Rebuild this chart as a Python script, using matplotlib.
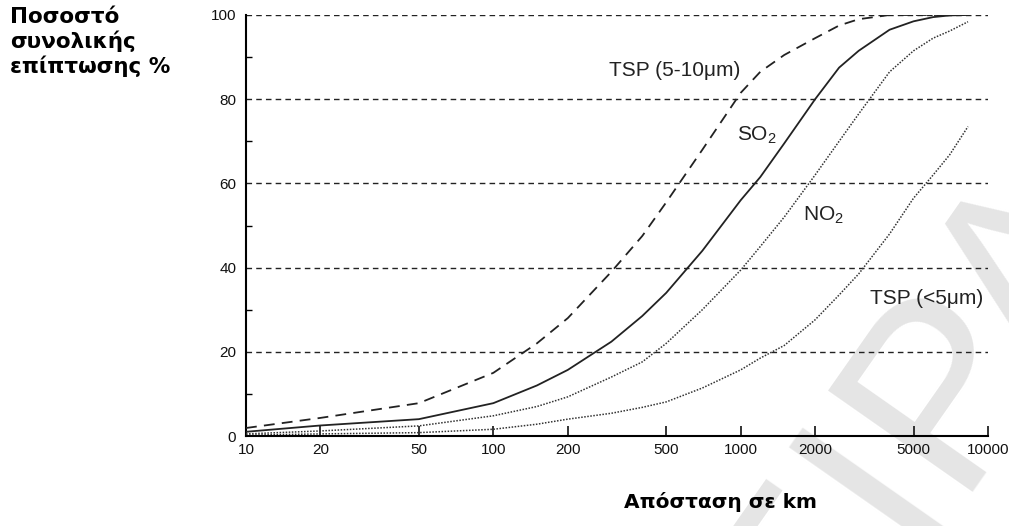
import numpy as np
import matplotlib.pyplot as plt

plt.rcParams['font.family'] = ['Liberation Sans', 'DejaVu Sans']
plt.rcParams['mathtext.default'] = 'regular'

# distance (km) and cumulative deposition (%)
dist = [10, 20, 50, 100, 150, 200, 300, 400, 500, 700, 1000, 1200, 1500,
        2000, 2500, 3000, 4000, 5000, 6000, 7000, 8300]
tsp_coarse = [1.9, 4.3, 7.8, 15, 22, 28, 39, 47.5, 55.5, 68, 81.5, 86.5, 90.5,
              94.5, 97.5, 99, 100, 100, 100, 100, 100]
so2 = [1.0, 2.5, 4.0, 7.8, 12, 15.7, 22.4, 28.5, 34, 44, 56, 61.5, 69.5,
       80, 87.5, 91.5, 96.5, 98.5, 99.5, 99.9, 100]
no2 = [0.5, 1.2, 2.4, 4.8, 7, 9.3, 14, 17.6, 22, 30, 39.4, 45, 52,
       62, 70, 76.5, 86.5, 91.5, 94.5, 96.2, 98.4]
tsp_fine = [0.2, 0.5, 0.8, 1.6, 2.8, 4, 5.4, 6.8, 8.1, 11.4, 15.7, 18.5, 21.5,
            27.6, 33.5, 38.5, 48, 56.5, 62, 66.8, 73.5]

xticks = [10, 20, 50, 100, 200, 500, 1000, 2000, 5000, 10000]
yticks = [0, 20, 40, 60, 80, 100]

fig = plt.figure(figsize=(10.09, 5.26), dpi=100)
ax = fig.add_axes([246/1009, 90/526, 742/1009, 421/526])
ax.patch.set_alpha(0)

# faint watermark behind everything
fig.text(922/1009, 1 - 420/526, 'EIPA', rotation=55, fontsize=185, color='#e5e5e5',
         ha='center', va='center', zorder=-5, family='Liberation Sans')

for y in yticks[1:]:
    ax.axhline(y, color='#222222', lw=1.0, ls=(0, (4, 3)), zorder=1)

ax.plot(dist, tsp_coarse, color='#222222', lw=1.3, ls=(0, (6, 4)), zorder=3)
ax.plot(dist, so2, color='#222222', lw=1.3, zorder=3)
ax.plot(dist, no2, color='#333333', lw=1.1, ls=(0, (1, 1)), zorder=3)
ax.plot(dist, tsp_fine, color='#333333', lw=1.1, ls=(0, (1, 1)), zorder=3)

ax.set_xscale('log')
ax.set_xlim(10, 10000)
ax.set_ylim(0, 100)
ax.set_xticks(xticks)
ax.set_xticklabels([str(v) for v in xticks])
ax.xaxis.set_minor_locator(plt.NullLocator())
ax.set_yticks(yticks)
ax.set_yticks([10, 30, 50, 70, 90], minor=True)
ax.tick_params(axis='x', direction='in', length=7, width=1.2, labelsize=11, pad=5, colors='#111111')
ax.tick_params(axis='y', which='major', direction='in', length=0, labelsize=11, pad=7, colors='#111111')
ax.tick_params(axis='y', which='minor', direction='in', length=4, width=1)
ax.spines['top'].set_visible(False)
ax.spines['right'].set_visible(False)
ax.spines['left'].set_linewidth(1.5)
ax.spines['bottom'].set_linewidth(1.5)
ax.spines['bottom'].set_zorder(4)

lab_kw = dict(fontsize=15, color='#222222', ha='center', va='center')
fig.text(675/1009, 1 - 70/526, 'TSP (5-10\u03bcm)', **lab_kw)
fig.text(757/1009, 1 - 135/526, 'SO$_2$', **lab_kw)
fig.text(823/1009, 1 - 215/526, 'NO$_2$', **lab_kw)
fig.text(927/1009, 1 - 298/526, 'TSP (<5\u03bcm)', **lab_kw)

fig.text(10/1009, 1 - 7/526, 'Ποσοστό\nσυνολικής\nεπίπτωσης %', fontsize=15.5, fontweight='bold',
         family='DejaVu Sans', ha='left', va='top', linespacing=1.2)
fig.text(720/1009, 1 - 502/526, 'Απόσταση σε km', fontsize=14.5, fontweight='bold',
         family='DejaVu Sans', ha='center', va='center')

fig.savefig('out.png', dpi=100, facecolor='white')
